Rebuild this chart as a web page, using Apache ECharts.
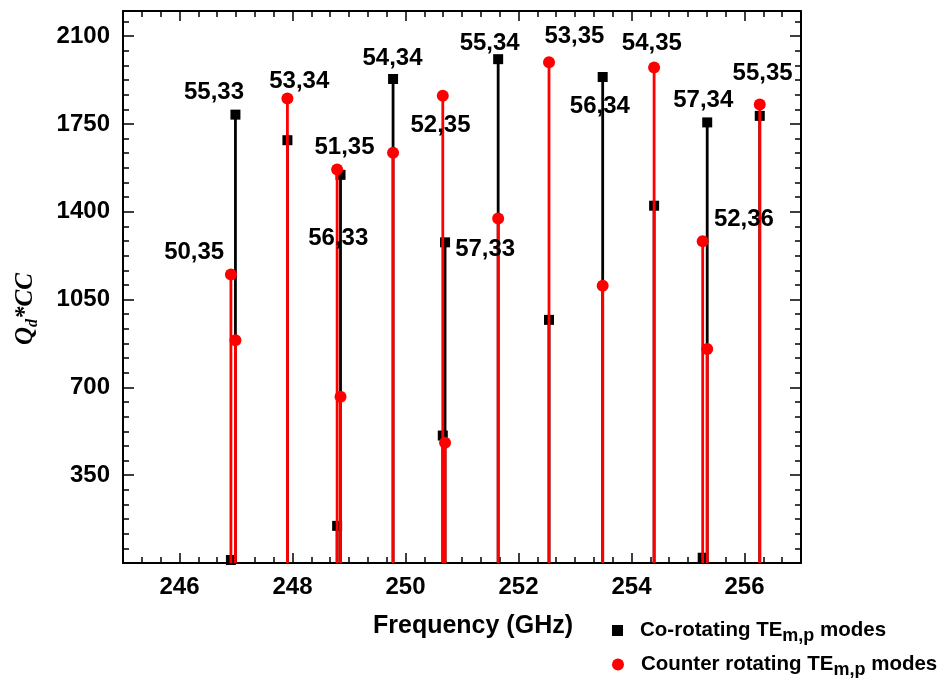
<!DOCTYPE html>
<html>
<head>
<meta charset="utf-8">
<script src="https://cdn.jsdelivr.net/npm/echarts@6/dist/echarts.min.js"></script>
<style>
  html, body { margin: 0; padding: 0; background: #fff; }
  #main { width: 942px; height: 678px; }
</style>
</head>
<body>
<div id="main"></div>
<script>
// stem frequencies (GHz), shared by both mode families
const freq = [246.91, 246.99, 247.91, 248.79, 248.85, 249.78, 250.66, 250.70, 251.64, 252.54, 253.49, 254.40, 255.26, 255.34, 256.27]
// Qd*CC of co-rotating modes (black squares)
const coQ = [12, 1787, 1685, 148, 1547, 1929, 508, 1278, 2008, 969, 1937, 1424, 21, 1756, 1782]
// Qd*CC of counter rotating modes (red circles)
const counterQ = [1150, 888, 1851, 1568, 663, 1635, 1862, 479, 1373, 1996, 1105, 1975, 1282, 853, 1827]

// mode annotations (m,p) and where they sit in data space
const modeText = ['55,33', '53,34', '54,34', '51,35', '56,33', '50,35', '52,35', '55,34', '57,33', '53,35', '56,34', '54,35', '57,34', '52,36', '55,35']
const modeFreq = [246.61, 248.12, 249.77, 248.92, 248.81, 246.26, 250.62, 251.49, 251.41, 252.99, 253.44, 254.36, 255.27, 255.99, 256.32]
const modeQ = [1877, 1920, 2013, 1658, 1294, 1238, 1744, 2070, 1250, 2099, 1818, 2070, 1844, 1371, 1951]

// axis ticks
const xTicks = [246, 248, 250, 252, 254, 256]
const yTicks = [350, 700, 1050, 1400, 1750, 2100]

const X_MIN = 245
const X_MAX = 257
const Y_MIN = 0
const Y_MAX = 2200

const FONT = 'Liberation Sans'

// minor tick positions: thirds on x, sixths of 350 on y
const xMinor = []
for (let k = 0; k <= 36; k++) {
  const v = X_MIN + k / 3
  if (Math.abs(v - Math.round(v)) < 1e-6 && Math.round(v) % 2 === 0) continue
  xMinor.push(+v.toFixed(4))
}
const yMinor = []
for (let k = 0; k * 350 / 6 <= Y_MAX; k++) {
  if (k % 6 === 0) continue
  yMinor.push(+(k * 350 / 6).toFixed(4))
}

const coData = freq.map((f, i) => [f, coQ[i]])
const counterData = freq.map((f, i) => [f, counterQ[i]])
const modeData = modeText.map((t, i) => ({ name: t, value: [modeFreq[i], modeQ[i]] }))

// vertical stem from the x axis up to the point
function stem (color) {
  return function (params, api) {
    const top = api.coord([api.value(0), api.value(1)])
    const base = api.coord([api.value(0), Y_MIN])
    return {
      type: 'line',
      shape: { x1: base[0], y1: base[1], x2: top[0], y2: top[1] },
      style: { stroke: color, lineWidth: 2.8 }
    }
  }
}

function xAx (position, ticks, len, showLine, showLabel) {
  return {
    type: 'value',
    position: position,
    min: X_MIN,
    max: X_MAX,
    axisLine: { show: showLine, onZero: false, lineStyle: { color: '#000', width: 2 } },
    axisTick: { show: true, inside: true, length: len, customValues: ticks, lineStyle: { color: '#000', width: 1.5 } },
    axisLabel: {
      show: showLabel,
      customValues: xTicks,
      formatter: v => String(v),
      margin: 12,
      color: '#000',
      fontSize: 24,
      fontWeight: 'bold',
      fontFamily: FONT
    },
    splitLine: { show: false }
  }
}

function yAx (position, ticks, len, showLine, showLabel) {
  return {
    type: 'value',
    position: position,
    min: Y_MIN,
    max: Y_MAX,
    axisLine: { show: showLine, onZero: false, lineStyle: { color: '#000', width: 2 } },
    axisTick: { show: true, inside: true, length: len, customValues: ticks, lineStyle: { color: '#000', width: 1.5 } },
    axisLabel: {
      show: showLabel,
      customValues: yTicks,
      formatter: v => String(v),
      margin: 13,
      color: '#000',
      fontSize: 24,
      fontWeight: 'bold',
      fontFamily: FONT
    },
    splitLine: { show: false }
  }
}

const legendText = {
  color: '#000',
  fontSize: 20.5,
  fontWeight: 'bold',
  fontFamily: FONT,
  rich: {
    sp: { width: 12 },
    b: { fontSize: 20.5, fontWeight: 'bold', fontFamily: FONT, color: '#000' },
    s: { fontSize: 18, fontWeight: 'bold', fontFamily: FONT, color: '#000', padding: [12, 0, 0, 0] }
  }
}
const legendFmt = name => '{sp|}{b|' + name + ' TE}{s|m,p}{b| modes}'

const chart = echarts.init(document.getElementById('main'))

const option = {
  animation: false,
  backgroundColor: '#fff',
  grid: { left: 123, right: 141, top: 11, bottom: 115, containLabel: false },
  xAxis: [
    Object.assign(xAx('bottom', xTicks, 10, true, true), {
      name: 'Frequency (GHz)',
      nameLocation: 'middle',
      nameGap: 51,
      nameTextStyle: { color: '#000', fontSize: 25, fontWeight: 'bold', fontFamily: FONT, padding: [0, 0, 0, 22] }
    }),
    xAx('bottom', xMinor, 6, false, false),
    xAx('top', xTicks, 10, true, false),
    xAx('top', xMinor, 6, false, false)
  ],
  yAxis: [
    yAx('left', yTicks, 11, true, true),
    yAx('left', yMinor, 6, false, false),
    yAx('right', yTicks, 11, true, false),
    yAx('right', yMinor, 6, false, false)
  ],
  legend: [
    {
      left: 607,
      top: 615,
      itemWidth: 11,
      itemHeight: 11,
      data: [{ name: 'Co-rotating', icon: 'rect' }],
      formatter: legendFmt,
      textStyle: legendText
    },
    {
      left: 607,
      top: 649,
      itemWidth: 12,
      itemHeight: 12,
      data: [{ name: 'Counter rotating', icon: 'circle' }],
      formatter: legendFmt,
      textStyle: legendText
    }
  ],
  graphic: [
    {
      type: 'text',
      x: 26,
      y: 309,
      rotation: Math.PI / 2,
      style: {
        text: '{q|Q}{d|d}{q|*CC}',
        align: 'center',
        verticalAlign: 'middle',
        rich: {
          q: { fontSize: 25, fontStyle: 'italic', fontWeight: 'bold', fontFamily: 'Liberation Serif', fill: '#000' },
          d: { fontSize: 16, fontStyle: 'italic', fontWeight: 'bold', fontFamily: 'Liberation Serif', fill: '#000', padding: [14, 0, 0, 0] }
        }
      }
    }
  ],
  series: [
    {
      name: 'co-stems',
      type: 'custom',
      renderItem: stem('#000'),
      data: coData,
      z: 1
    },
    {
      name: 'Co-rotating',
      type: 'scatter',
      symbol: 'rect',
      symbolSize: 10,
      itemStyle: { color: '#000', opacity: 1 },
      data: coData,
      z: 2
    },
    {
      name: 'counter-stems',
      type: 'custom',
      renderItem: stem('#ff0000'),
      data: counterData,
      z: 3
    },
    {
      name: 'Counter rotating',
      type: 'scatter',
      symbol: 'circle',
      symbolSize: 12,
      itemStyle: { color: '#ff0000', opacity: 1 },
      data: counterData,
      z: 4
    },
    {
      name: 'modes',
      type: 'scatter',
      symbolSize: 1,
      itemStyle: { color: 'rgba(0,0,0,0)', opacity: 1 },
      silent: true,
      label: {
        show: true,
        position: 'inside',
        formatter: p => p.name,
        color: '#000',
        opacity: 1,
        fontSize: 24,
        fontWeight: 'bold',
        fontFamily: FONT
      },
      data: modeData,
      z: 5
    }
  ]
}

chart.setOption(option)
</script>
</body>
</html>
